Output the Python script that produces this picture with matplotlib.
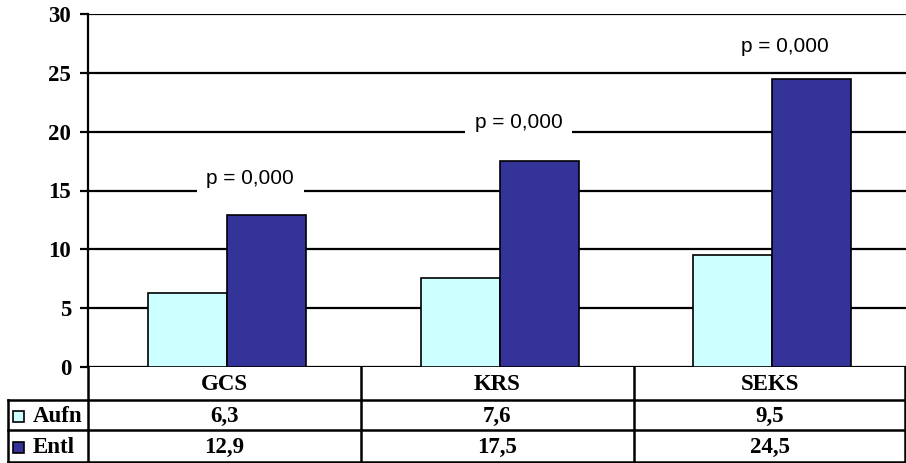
import numpy as np
import matplotlib.pyplot as plt

categories = ["GCS", "KRS", "SEKS"]
aufn = [6.3, 7.6, 9.5]
entl = [12.9, 17.5, 24.5]
aufn_labels = ["6,3", "7,6", "9,5"]
entl_labels = ["12,9", "17,5", "24,5"]
p_labels = ["p = 0,000", "p = 0,000", "p = 0,000"]
p_heights = [16.0, 20.8, 27.2]

W, H = 906, 463
fig = plt.figure(figsize=(W / 100, H / 100), dpi=100)
serif = "Liberation Serif"
fs = 16.5

# plot area in pixels
x0, x1 = 88, 906
ytop, ybot = 14, 367
ax = fig.add_axes([x0 / W, 1 - ybot / H, (x1 - x0) / W, (ybot - ytop) / H])

x = np.arange(len(categories))
bw = 0.29
ax.bar(x - bw / 2 + 0.01, aufn, bw, color="#CCFFFF", edgecolor="black", linewidth=1.2, zorder=3)
ax.bar(x + bw / 2 + 0.01, entl, bw, color="#333399", edgecolor="black", linewidth=1.2, zorder=3)

ax.set_xlim(-0.5, 2.5)
ax.set_ylim(0, 30)
ax.set_yticks(range(0, 31, 5))
ax.yaxis.grid(True, color="black", linewidth=1.6)
ax.set_axisbelow(True)
ax.set_xticks([])
for s in ["top", "right", "bottom"]:
    ax.spines[s].set_visible(False)
ax.spines["left"].set_linewidth(1.6)
ax.tick_params(axis="y", length=6, width=1.6, pad=6)
for lab in ax.get_yticklabels():
    lab.set_fontfamily(serif)
    lab.set_fontweight("bold")
    lab.set_fontsize(fs)

p_offsets = [0.095, 0.08, 0.055]
for i, (t, h) in enumerate(zip(p_labels, p_heights)):
    ax.text(i + p_offsets[i], h, t, ha="center", va="center", fontsize=15,
            family="Liberation Sans", zorder=4,
            bbox=dict(facecolor="white", edgecolor="none", pad=7))

# data table below the plot
tab = fig.add_axes([0, 0, 1, (H - ybot) / H])
tab.set_xlim(0, W)
tab.set_ylim(H, ybot)
tab.axis("off")
lw = 1.8
cols = [x0, 361, 634, x1]
for c in cols[1:-1]:
    tab.plot([c, c], [ybot, H], color="black", lw=lw)
tab.plot([x0, x0], [ybot, H], color="black", lw=lw)
tab.plot([x1 - 1, x1 - 1], [ybot, H], color="black", lw=lw)
tab.plot([8, x1], [400, 400], color="black", lw=lw)
tab.plot([8, x1], [430, 430], color="black", lw=lw)
tab.plot([8, x1], [H - 1, H - 1], color="black", lw=lw)
tab.plot([8, 8], [400, H], color="black", lw=lw)

font = dict(family=serif, fontweight="bold", fontsize=fs, ha="center", va="center")
for i in range(3):
    cx = (cols[i] + cols[i + 1]) / 2
    tab.text(cx, 384, categories[i], **font)
    tab.text(cx, 416, aufn_labels[i], **font)
    tab.text(cx, 447, entl_labels[i], **font)

# legend keys
for yc, col, name in [(416, "#CCFFFF", "Aufn"), (447, "#333399", "Entl")]:
    tab.add_patch(plt.Rectangle((13, yc - 5), 11, 11, facecolor=col, edgecolor="black", lw=1.2))
    tab.text(33, yc, name, family=serif, fontweight="bold", fontsize=fs, ha="left", va="center")

fig.savefig("out.png", dpi=100)
